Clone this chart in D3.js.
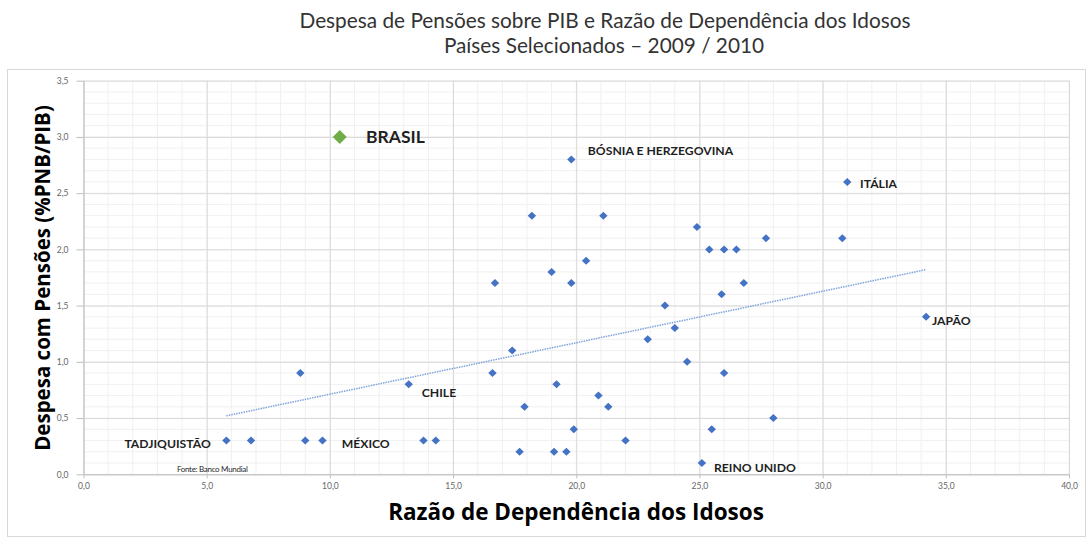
<html>
<head>
<meta charset="utf-8">
<script src="https://d3js.org/d3.v7.min.js"></script>
<style>
  body { margin: 0; background: #fff; }
  text { font-family: Lato, "Open Sans", sans-serif; }
</style>
</head>
<body>
<svg id="chart" width="1088" height="538"></svg>
<script>
  // Razão de dependência (x) vs despesa com pensões (y)
  var countryX = [19.8, 18.2, 21.1, 24.9, 25.4, 26.0, 26.5, 20.4, 19.0, 31.0, 27.7, 30.8,
                  16.7, 19.8, 26.8, 25.9, 23.6, 24.0, 22.9, 17.4, 24.5, 16.6, 26.0, 13.2,
                  19.2, 20.9, 17.9, 21.3, 19.9, 25.5, 13.8, 14.3, 22.0, 17.7, 19.1, 19.6,
                  25.1, 8.8, 5.8, 6.8, 9.0, 9.7, 28.0, 34.2];
  var countryY = [2.8, 2.3, 2.3, 2.2, 2.0, 2.0, 2.0, 1.9, 1.8, 2.6, 2.1, 2.1,
                  1.7, 1.7, 1.7, 1.6, 1.5, 1.3, 1.2, 1.1, 1.0, 0.9, 0.9, 0.8,
                  0.8, 0.7, 0.6, 0.6, 0.4, 0.4, 0.3, 0.3, 0.3, 0.2, 0.2, 0.2,
                  0.1, 0.9, 0.3, 0.3, 0.3, 0.3, 0.5, 1.4];
  var brasil = {x: 10.4, y: 3.0};
  // linha de tendência (pontos inicial e final)
  var trendX = [5.8, 34.2];
  var trendY = [0.52, 1.82];
  var labelNames = ["BRASIL", "BÓSNIA E HERZEGOVINA", "ITÁLIA", "JAPÃO", "CHILE", "REINO UNIDO", "TADJIQUISTÃO", "MÉXICO"];
  var labelX = [11.47, 20.47, 31.52, 34.44, 13.73, 25.59, 1.66, 10.48];
  var labelY = [3.0, 2.88, 2.59, 1.37, 0.725, 0.06, 0.27, 0.27];
  var xTicks = [0, 5, 10, 15, 20, 25, 30, 35, 40];
  var yTicks = [0, 0.5, 1, 1.5, 2, 2.5, 3, 3.5];

  var svg = d3.select("#chart");

  // moldura do gráfico
  svg.append("rect")
    .attr("x", 7.5).attr("y", 69.5)
    .attr("width", 1078).attr("height", 467)
    .attr("fill", "#fff").attr("stroke", "#d9d9d9");

  var x = d3.scaleLinear().domain([0, 40]).range([83.5, 1069]);
  var y = d3.scaleLinear().domain([0, 3.5]).range([474.3, 80.7]);

  // grade secundária
  svg.append("g").selectAll("line")
    .data(d3.range(0, 40.5, 1))
    .enter().append("line")
      .attr("x1", function(d) { return x(d); }).attr("x2", function(d) { return x(d); })
      .attr("y1", y(0)).attr("y2", y(3.5))
      .attr("stroke", "#f0f0f0");
  svg.append("g").selectAll("line")
    .data(d3.range(0, 35.5, 1).map(function(d) { return d / 10; }))
    .enter().append("line")
      .attr("x1", x(0)).attr("x2", x(40))
      .attr("y1", function(d) { return y(d); }).attr("y2", function(d) { return y(d); })
      .attr("stroke", "#f0f0f0");

  // grade principal
  svg.append("g")
    .attr("transform", "translate(0," + y(0) + ")")
    .call(d3.axisBottom(x).tickValues(xTicks).tickSize(-(y(0) - y(3.5))).tickFormat(""))
    .call(function(g) { g.select(".domain").remove(); g.selectAll("line").attr("stroke", "#d9d9d9"); });
  svg.append("g")
    .attr("transform", "translate(" + x(0) + ",0)")
    .call(d3.axisLeft(y).tickValues(yTicks).tickSize(-(x(40) - x(0))).tickFormat(""))
    .call(function(g) { g.select(".domain").remove(); g.selectAll("line").attr("stroke", "#d9d9d9"); });

  var fmt = function(d) { return d.toFixed(1).replace(".", ","); };

  // eixos
  svg.append("g")
    .attr("transform", "translate(0," + y(0) + ")")
    .call(d3.axisBottom(x).tickValues(xTicks).tickSize(4).tickSizeOuter(0).tickPadding(5).tickFormat(fmt))
    .call(function(g) {
      g.select(".domain").attr("stroke", "#bfbfbf");
      g.selectAll("line").attr("stroke", "#bfbfbf");
      g.selectAll("text").attr("fill", "#666").style("font-size", "8.5px").style("font-family", "Lato, sans-serif");
    });
  svg.append("g")
    .attr("transform", "translate(" + x(0) + ",0)")
    .call(d3.axisLeft(y).tickValues(yTicks).tickSize(7).tickSizeOuter(0).tickPadding(8).tickFormat(fmt))
    .call(function(g) {
      g.select(".domain").attr("stroke", "#bfbfbf");
      g.selectAll("line").attr("stroke", "#bfbfbf");
      g.selectAll("text").attr("fill", "#666").style("font-size", "8.5px").style("font-family", "Lato, sans-serif");
    });

  // linha de tendência
  svg.append("path")
    .datum(d3.zip(trendX, trendY))
    .attr("fill", "none")
    .attr("stroke", "#7fa3dc")
    .attr("stroke-width", 1.5)
    .attr("stroke-dasharray", "1.5,1")
    .attr("d", d3.line()
      .x(function(d) { return x(d[0]); })
      .y(function(d) { return y(d[1]); }));

  // pontos
  var points = d3.zip(countryX, countryY);
  svg.append("g").selectAll("path")
    .data(points)
    .enter().append("path")
      .attr("transform", function(d) { return "translate(" + x(d[0]) + "," + y(d[1]) + ")"; })
      .attr("d", "M0,-4L4.2,0L0,4L-4.2,0Z")
      .attr("fill", "#4472c4");

  svg.append("path")
    .attr("transform", "translate(" + x(brasil.x) + "," + y(brasil.y) + ")")
    .attr("d", "M0,-7L7,0L0,7L-7,0Z")
    .attr("fill", "#70ad47");

  // rótulos dos países
  svg.append("g").selectAll("text")
    .data(d3.zip(labelNames, labelX, labelY))
    .enter().append("text")
      .attr("x", function(d) { return x(d[1]); })
      .attr("y", function(d) { return y(d[2]); })
      .attr("dominant-baseline", "central")
      .attr("fill", "#1f1f1f")
      .style("font-weight", "bold")
      .style("font-size", function(d) { return d[0] === "BRASIL" ? "17.5px" : "12.2px"; })
      .text(function(d) { return d[0]; });

  svg.append("text")
    .attr("x", x(3.79)).attr("y", y(0.047))
    .attr("dominant-baseline", "central")
    .attr("fill", "#1f1f1f")
    .style("font-size", "8px")
    .style("letter-spacing", "-0.3px")
    .text("Fonte: Banco Mundial");

  // títulos
  svg.append("text")
    .attr("x", 605).attr("y", 19)
    .attr("text-anchor", "middle").attr("dominant-baseline", "central")
    .attr("fill", "#333")
    .style("font-size", "20.8px")
    .text("Despesa de Pensões sobre PIB e Razão de Dependência dos Idosos");
  svg.append("text")
    .attr("x", 604).attr("y", 44)
    .attr("text-anchor", "middle").attr("dominant-baseline", "central")
    .attr("fill", "#333")
    .style("font-size", "20.8px")
    .text("Países Selecionados – 2009 / 2010");

  svg.append("text")
    .attr("x", 576).attr("y", 511)
    .attr("text-anchor", "middle").attr("dominant-baseline", "central")
    .attr("fill", "#000")
    .style("font-family", "'Open Sans', sans-serif")
    .style("font-weight", "bold")
    .style("font-size", "22.5px")
    .text("Razão de Dependência dos Idosos");

  svg.append("text")
    .attr("transform", "translate(42,278) rotate(-90)")
    .attr("text-anchor", "middle").attr("dominant-baseline", "central")
    .attr("fill", "#000")
    .style("font-family", "'Open Sans', sans-serif")
    .style("font-weight", "bold")
    .style("font-size", "20.5px")
    .text("Despesa com Pensões (%PNB/PIB)");
</script>
</body>
</html>
